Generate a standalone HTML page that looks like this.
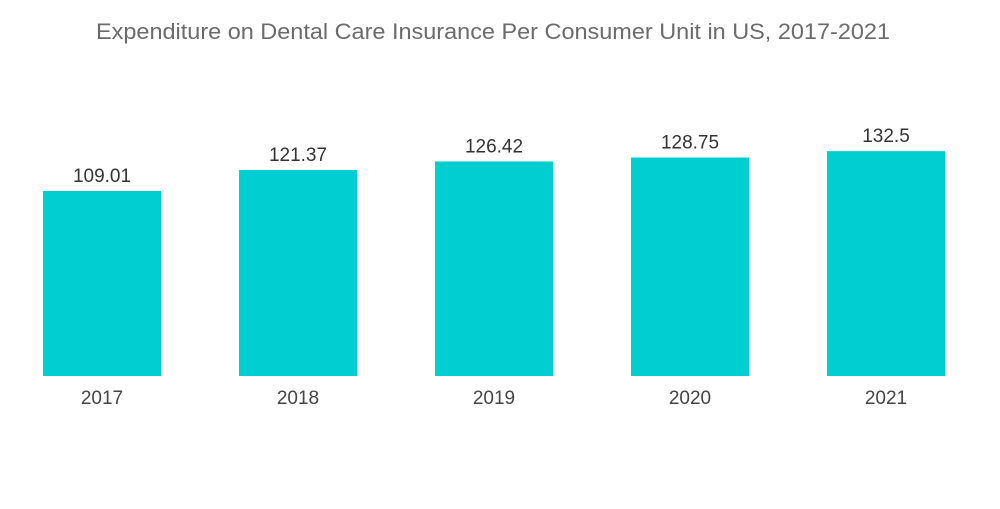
<!DOCTYPE html>
<html><head><meta charset="utf-8"><style>
body{margin:0;background:#fff;width:1000px;height:504px;overflow:hidden;font-family:"Liberation Sans",sans-serif}
</style></head><body>
<svg id="chart" width="1000" height="504">
<text x="493" y="39" text-anchor="middle" font-size="22" fill="#6b6b6b" textLength="794" lengthAdjust="spacingAndGlyphs">Expenditure on Dental Care Insurance Per Consumer Unit in US, 2017-2021</text>
</svg>
<script>
const categories=["2017","2018","2019","2020","2021"];
const values=[109.01,121.37,126.42,128.75,132.5];
const valueLabels=["109.01","121.37","126.42","128.75","132.5"];
const svg=document.getElementById('chart');
const NS="http://www.w3.org/2000/svg";
const baseY=376, pxPerUnit=185/109.01, x0=102, step=196, bw=118;
function xScale(i){return x0+i*step;}
function yScale(v){return baseY-v*pxPerUnit;}
categories.forEach((c,i)=>{
  const cx=xScale(i), top=yScale(values[i]);
  const r=document.createElementNS(NS,'rect');
  r.setAttribute('x',cx-bw/2);r.setAttribute('y',top);r.setAttribute('width',bw);r.setAttribute('height',baseY-top);r.setAttribute('fill','#00ced1');
  
  
  svg.appendChild(r);
  const t=document.createElementNS(NS,'text');
  t.setAttribute('x',cx);t.setAttribute('y',top-9);t.setAttribute('text-anchor','middle');t.setAttribute('font-size','19');t.setAttribute('fill','#333');
  t.textContent=valueLabels[i];
  
  
  svg.appendChild(t);
  const l=document.createElementNS(NS,'text');
  l.setAttribute('x',cx);l.setAttribute('y',404);l.setAttribute('text-anchor','middle');l.setAttribute('font-size','19');l.setAttribute('fill','#444');
  l.textContent=c;
  
  
  svg.appendChild(l);
});
</script>
</body></html>
